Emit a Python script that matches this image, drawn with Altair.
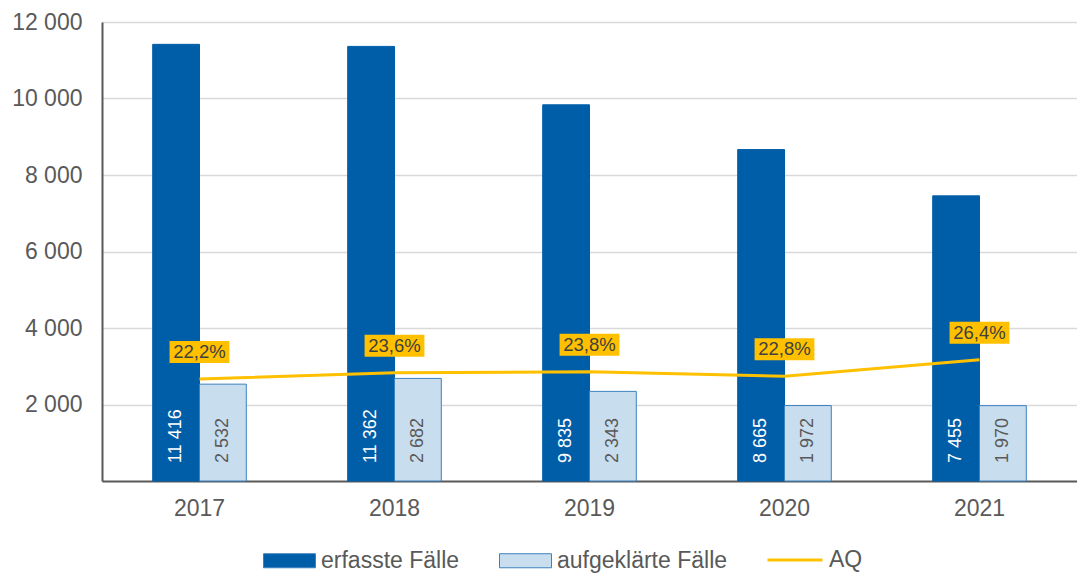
import altair as alt
import pandas as pd

years = ["2017", "2018", "2019", "2020", "2021"]
erfasst = [11416, 11362, 9835, 8665, 7455]
aufgeklaert = [2532, 2682, 2343, 1972, 1970]
aq = [22.2, 23.6, 23.8, 22.8, 26.4]
series_names = ["erfasste Fälle", "aufgeklärte Fälle"]
line_name = "AQ"
y_ticks = [2000, 4000, 6000, 8000, 10000, 12000]

DARK = "#005ea8"
LIGHT = "#c8ddee"
LIGHT_EDGE = "#3d82c0"
GOLD = "#ffc000"
TXT = "#595959"
FONT = "Liberation Sans"

bars_df = pd.DataFrame({
    "year": years * 2,
    "series": [series_names[0]] * len(years) + [series_names[1]] * len(years),
    "value": erfasst + aufgeklaert,
})
aq_df = pd.DataFrame({"year": years, "aq": aq, "name": [line_name] * len(years)})

x_enc = alt.X(
    "year:N", title=None,
    scale=alt.Scale(paddingInner=0.52, paddingOuter=0.26),
    axis=alt.Axis(labelAngle=0, labelFontSize=23, labelColor=TXT, labelPadding=16,
                  ticks=False, domainColor="#595959", domainWidth=2, grid=False),
)
xoff = alt.XOffset("series:N", sort=series_names, scale=alt.Scale(domain=series_names))
y_bar = alt.Y(
    "value:Q", title=None, scale=alt.Scale(domain=[0, 12000]),
    axis=alt.Axis(values=y_ticks, labelExpr="replace(format(datum.value, ','), ',', ' ')",
                  labelFontSize=23, labelColor=TXT, labelPadding=20, ticks=False,
                  domainColor="#595959", domainWidth=2, gridColor="#d9d9d9", gridWidth=1.5),
)

bars = alt.Chart(bars_df).mark_bar(strokeWidth=1).encode(
    x=x_enc,
    xOffset=xoff,
    y=y_bar,
    color=alt.Color(
        "series:N", sort=series_names,
        scale=alt.Scale(domain=series_names, range=[DARK, LIGHT]),
        legend=alt.Legend(
            title=None, orient="none", direction="horizontal", legendX=161, legendY=512,
            symbolType="M-1,-0.27H1V0.27H-1Z", symbolSize=2704, symbolStrokeColor=LIGHT_EDGE,
            symbolStrokeWidth=1, symbolOpacity=1, labelFontSize=23, labelColor=TXT,
            labelOffset=5, columnPadding=37, labelFont=FONT, labelLimit=400,
        ),
    ),
    stroke=alt.condition(alt.datum.series == series_names[1], alt.value(LIGHT_EDGE), alt.value(DARK)),
)

bar_text = alt.Chart(bars_df).transform_calculate(
    lbl="replace(format(datum.value, ','), ',', ' ')"
).mark_text(angle=270, align="left", baseline="middle", fontSize=18, yOffset=-18, font=FONT).encode(
    x=x_enc,
    xOffset=xoff,
    y=alt.datum(0),
    text="lbl:N",
    color=alt.condition(alt.datum.series == series_names[0], alt.value("white"), alt.value(TXT)),
)

y_aq = alt.Y("aq:Q", scale=alt.Scale(domain=[0, 100]), axis=None)

line = alt.Chart(aq_df).mark_line(strokeWidth=3).encode(
    x=x_enc,
    y=y_aq,
    stroke=alt.Stroke(
        "name:N", scale=alt.Scale(domain=[line_name], range=[GOLD]),
        legend=alt.Legend(
            title=None, orient="none", direction="horizontal", legendX=664, legendY=509,
            symbolType="stroke", symbolSize=3025, symbolStrokeWidth=3,
            labelFontSize=23, labelColor=TXT, labelOffset=5, labelFont=FONT, labelLimit=200,
        ),
    ),
)

box = alt.Chart(aq_df).mark_point(
    shape="M-1.36,-0.5H1.36V0.5H-1.36Z", size=484 * 4, filled=True, fill=GOLD,
    opacity=1, strokeWidth=0, yOffset=-27,
).encode(x=x_enc, y=y_aq)

pct = alt.Chart(aq_df).transform_calculate(
    lbl="replace(format(datum.aq, '.1f'), '.', ',') + '%'"
).mark_text(fontSize=18.5, color="#404040", baseline="middle", yOffset=-27, font=FONT).encode(
    x=x_enc, y=y_aq, text="lbl:N"
)

left = alt.layer(bars, bar_text)
right = alt.layer(line, box, pct)

chart = alt.layer(left, right).resolve_scale(y="independent").properties(
    width=975, height=459,
    padding={"left": 3, "top": 3, "right": 0, "bottom": 0},
).configure_view(stroke=None).configure(font=FONT).configure_axis(labelFont=FONT)

chart.save("out.html", embed_options={"renderer": "svg", "actions": False})
